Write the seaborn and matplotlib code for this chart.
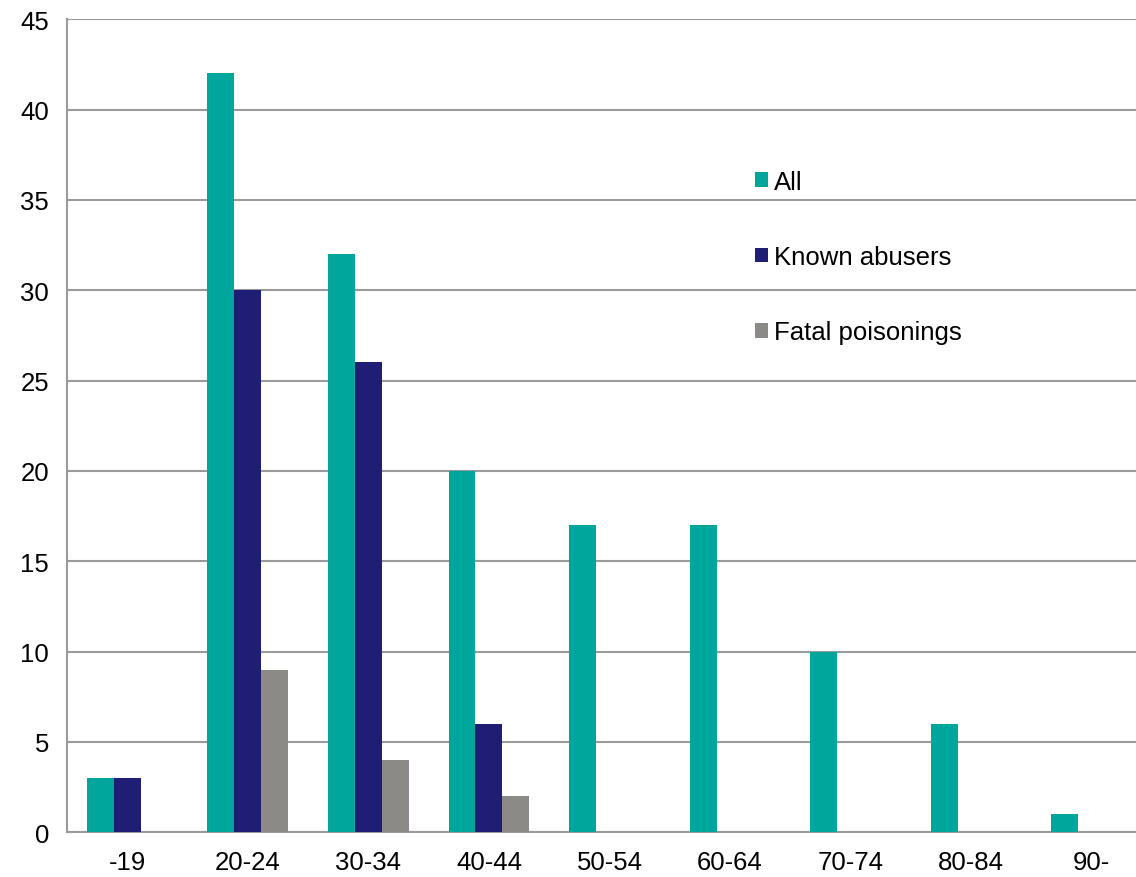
import pandas as pd
import matplotlib.pyplot as plt
import seaborn as sns
from matplotlib.ticker import FixedLocator

# age groups and counts per series
grupos = ["-19", "20-24", "30-34", "40-44", "50-54", "60-64", "70-74", "80-84", "90-"]
todos = [3, 42, 32, 20, 17, 17, 10, 6, 1]
abusadores = [3, 30, 26, 6, 0, 0, 0, 0, 0]
fatales = [0, 9, 4, 2, 0, 0, 0, 0, 0]
series = ["All", "Known abusers", "Fatal poisonings"]
colores = ["#00A59B", "#201E74", "#8C8A86"]

df = pd.DataFrame({
    "grupo": grupos * 3,
    "valor": todos + abusadores + fatales,
    "serie": [series[0]] * 9 + [series[1]] * 9 + [series[2]] * 9,
})

sns.set_style("white")
plt.rcParams['font.family'] = ['Liberation Sans', 'DejaVu Sans']
plt.rcParams['text.color'] = 'black'
plt.rcParams['xtick.labelcolor'] = 'black'
plt.rcParams['ytick.labelcolor'] = 'black'

fig = plt.figure(figsize=(11.36, 8.78), dpi=100)
# the original chart is cut off on the right, so the axes run past the figure edge
ax = fig.add_axes([0.059, 0.051, 0.955, 0.926])

sns.barplot(data=df, x="grupo", y="valor", hue="serie", palette=colores,
            width=0.67, saturation=1, linewidth=0, ax=ax, zorder=3)

ax.set_ylim(0, 45)
ax.set_xlim(-0.5, len(grupos) - 0.5)
ax.set_yticks(range(0, 46, 5))
ax.yaxis.grid(True, color="#9A9A9A", linewidth=1.5, zorder=0)
ax.set_axisbelow(True)
ax.set_xlabel("")
ax.set_ylabel("")

for lado in ["top", "right"]:
    ax.spines[lado].set_visible(False)
for lado in ["left", "bottom"]:
    ax.spines[lado].set_color("#9A9A9A")
    ax.spines[lado].set_linewidth(1.5)

ax.tick_params(axis="y", length=7, width=1.5, color="#9A9A9A", labelsize=18.5,
               pad=6, labelcolor="black")
ax.tick_params(axis="x", which="major", length=0, labelsize=18.5, pad=13, labelcolor="black")
ax.xaxis.set_minor_locator(FixedLocator([i - 0.5 for i in range(len(grupos) + 1)]))
ax.tick_params(axis="x", which="minor", length=8, width=1.5, color="#9A9A9A", direction="out")

leg = ax.legend(loc="upper left", bbox_to_anchor=(0.634, 0.815), frameon=False,
                fontsize=18.5, labelspacing=2.0, handlelength=0.5, handleheight=0.5,
                handletextpad=0.25, borderaxespad=0, borderpad=0, labelcolor="black")

fig.savefig("out.png", dpi=100)
